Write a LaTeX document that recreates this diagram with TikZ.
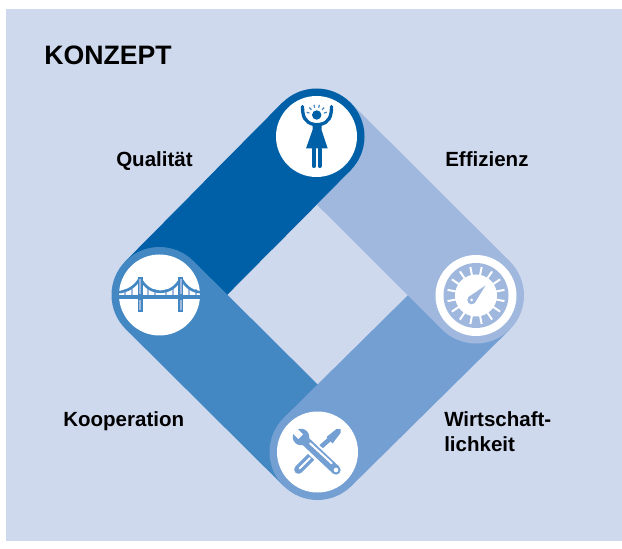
\documentclass[tikz,border=0pt]{standalone}
\usepackage{fontspec}
\usetikzlibrary{calc}
\setmainfont{Liberation Sans}
\definecolor{bgc}{HTML}{CFD9EE}
\definecolor{cdark}{HTML}{0060A7}
\definecolor{cmid}{HTML}{4388C2}
\definecolor{cwirt}{HTML}{749FD3}
\definecolor{clight}{HTML}{A0B8DE}
\begin{document}
\begin{tikzpicture}[x=0.75pt,y=-0.75pt,
  hub/.style={circle,draw=none,inner sep=0,minimum size=96*0.75pt},
  disc/.style={circle,fill=white,draw=none,inner sep=0,minimum size=81*0.75pt},
  band/.style={line width=72pt,line cap=butt},
  lab/.style={anchor=base west,inner sep=0,font=\bfseries\fontsize{15.4}{18}\selectfont},
  icon/.style={line cap=round,line join=round}]
\useasboundingbox (0,0) rectangle (622,549);
\fill[white] (0,0) rectangle (622,549);
\fill[bgc] (6,9) rectangle (622,541);
\coordinate (T) at (316.5,136.5);
\coordinate (L) at (159.5,295);
\coordinate (R) at (476,295.5);
\coordinate (B) at (317.5,452);
\coordinate (LT) at ($(L)!0.5!(T)$);
% bands, cyclic overlap
\draw[band,cdark] (L) -- (T);
\node[hub,fill=cmid] (hubL) at (L) {};
\draw[band,cmid] (L) -- (B);
\node[hub,fill=cwirt] (hubB) at (B) {};
\draw[band,cwirt] (B) -- (R);
\node[hub,fill=clight] (hubR) at (R) {};
\draw[band,clight] (R) -- (T);
\draw[band,cdark] (LT) -- (T);
\node[hub,fill=cdark] (hubT) at (T) {};
\node[disc] (discT) at (T) {};
\node[disc] (discL) at (L) {};
\node[disc] (discR) at (R) {};
\node[disc] (discB) at (B) {};
% person
\fill[cdark] (316.7,115) circle (4.7);
\foreach \a in {-165,-135,-105,-75,-45,-15}
  \draw[cmid,line width=0.9pt] ($(316.7,115)+(\a:7.5)$) -- ($(316.7,115)+(\a:10.5)$);
\begin{scope}[cdark]
\draw[icon,line width=2.5pt] (302.5,106.5) .. controls (302.5,117) and (305,122.5) .. (314,124.5);
\draw[icon,line width=2.5pt] (331.5,106.5) .. controls (331.5,117) and (329,122.5) .. (320,124.5);
\fill (312.5,123) -- (321.5,123) -- (321.5,130) -- (327.7,148.5) -- (306,148.5) -- (312.5,130) -- cycle;
\draw[icon,line width=3.1pt] (313.9,149) -- (313.9,166);
\draw[icon,line width=3.1pt] (319.6,149) -- (319.6,166);
\end{scope}
% bridge
\begin{scope}
\clip (L) circle (40.5);
\draw[clight,line width=1.1pt] \foreach \x in {125,132,148,155,166,173,189,196} {(\x,289) -- (\x,297)};
\draw[cmid,line width=2pt] (118,292.3) .. controls (128,291.5) and (136,286) .. (140,278);
\draw[cmid,line width=2pt] (201,292.3) .. controls (191,291.5) and (185,286) .. (181,278);
\draw[cmid,line width=2pt] (140,278) .. controls (145,287.5) and (152,291.7) .. (160.5,291.7) .. controls (169,291.7) and (176,287.5) .. (181,278);
\fill[cmid] (118,295) rectangle (201,299.3);
\end{scope}
\foreach \x in {140,180.7}{
  \fill[cmid] (\x-2.5,277) rectangle (\x+2.5,312);
  \fill[clight] (\x-1,279.5) rectangle (\x+1,294.5);
  \fill[clight] (\x-1,300) rectangle (\x+1,310.5);
}
% gauge
\fill[clight] (R) circle (32.5);
\foreach \a in {11.25,33.75,...,360}
  \draw[white,line width=1.5pt] ($(R)+(\a:18)$) -- ($(R)+(\a:29)$);
\fill[white] (R) circle (21);
\fill[clight] (485.5,285.5) -- (474.7,303) -- (468.5,297) -- cycle;
\fill[clight] (471.6,300) circle (4.3);
\fill[white] (471.6,300) circle (1.5);
% tools
\begin{scope}[cwirt]
\draw[line width=6.5pt,line cap=round] (298.5,469.5) -- (315,453);
\draw[white,line width=1.5pt,line cap=round] (299.5,468.5) -- (310,458);
\draw[line width=3.4pt] (314,453) -- (331,438);
\fill (326.5,437) -- (336.5,429) -- (340.5,429) -- (340.5,433) -- (332.5,443.5) -- cycle;
\draw[white,line width=10.5pt] (311,447) -- (326,461);
\draw[line width=7pt,line cap=round] (301,437) -- (336,470);
\draw[white,line width=1.5pt,line cap=round] (310,443.3) -- (331.7,463.3);
\fill[white] (336,470) circle (2.3);
\fill (301,437) circle (8.3);
\draw[white,line width=5pt] (300.7,436.7) -- (289,425);
\end{scope}
% texts
\node[anchor=base west,inner sep=0,font=\bfseries\fontsize{20}{22}\selectfont] (title) at (44,64.5) {KONZEPT};
\node[lab] (q) at (116,166.7) {Qualität};
\node[lab] (e) at (445,166.7) {Effizienz};
\node[lab] (k) at (63,426.5) {Kooperation};
\node[lab] (w1) at (444,426.5) {Wirtschaft-};
\node[lab] (w2) at (444,451.5) {lichkeit};
\end{tikzpicture}
\end{document}
